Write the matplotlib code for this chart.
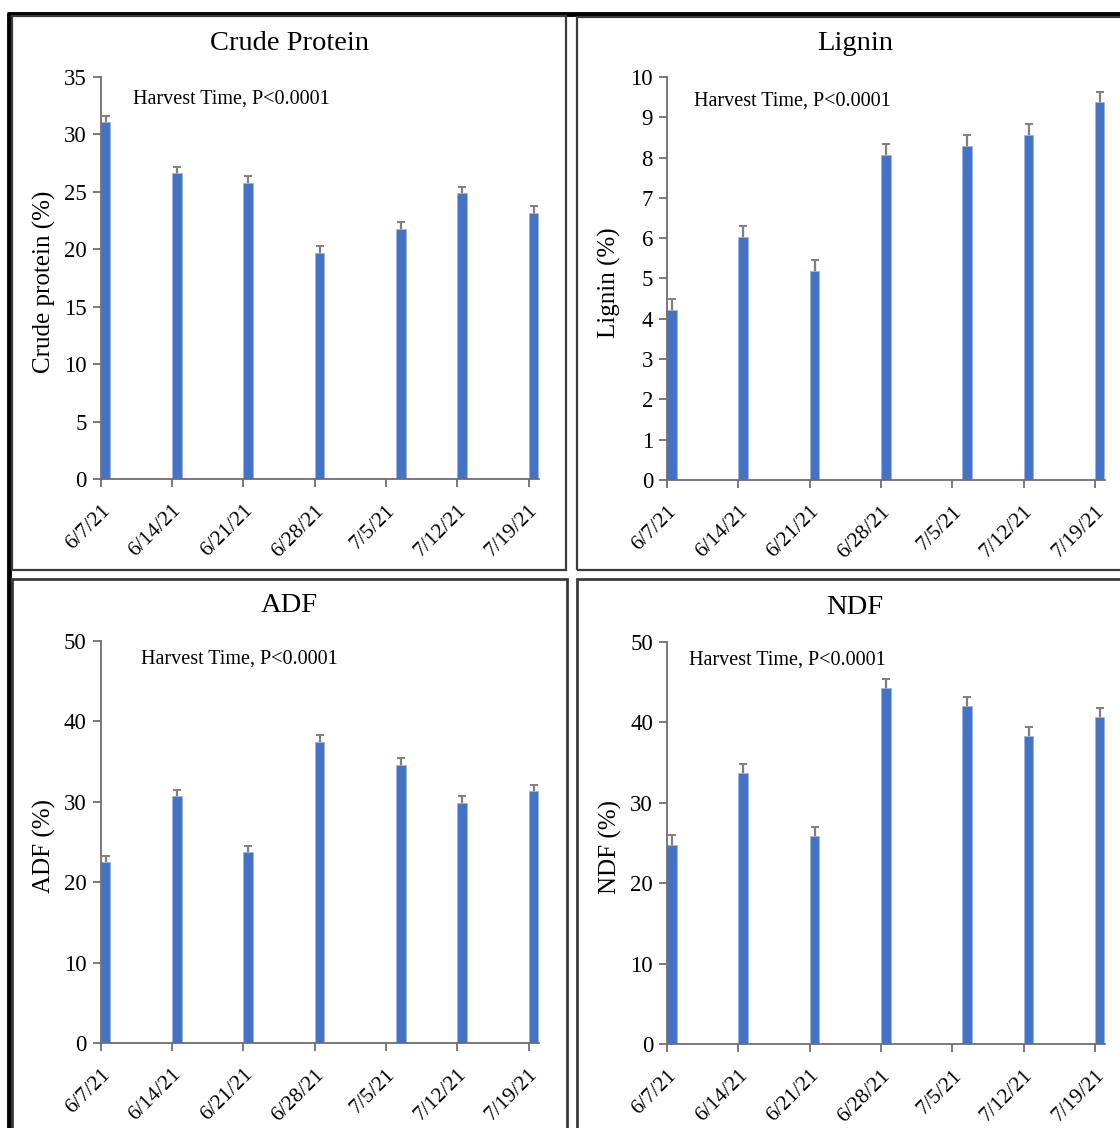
import numpy as np
import matplotlib
matplotlib.use("Agg")
import matplotlib.pyplot as plt
from matplotlib.lines import Line2D
from matplotlib.patches import Rectangle

plt.rcParams['font.family'] = ['Liberation Serif', 'DejaVu Serif']

# harvest dates (the "7/5" harvest sits on 7/6 on the date axis)
harvest_dates = np.array(['2021-06-07', '2021-06-14', '2021-06-21', '2021-06-28',
                          '2021-07-06', '2021-07-12', '2021-07-19'], dtype='datetime64[D]')
tick_dates = np.array(['2021-06-07', '2021-06-14', '2021-06-21', '2021-06-28',
                       '2021-07-05', '2021-07-12', '2021-07-19'], dtype='datetime64[D]')
tick_labels = ['6/7/21', '6/14/21', '6/21/21', '6/28/21', '7/5/21', '7/12/21', '7/19/21']

crude_protein = [31.1, 26.6, 25.8, 19.7, 21.8, 24.9, 23.2]
crude_protein_se = [0.5, 0.55, 0.55, 0.55, 0.55, 0.55, 0.55]
lignin = [4.23, 6.04, 5.18, 8.07, 8.30, 8.56, 9.37]
lignin_se = [0.27, 0.27, 0.27, 0.27, 0.27, 0.27, 0.27]
adf = [22.5, 30.7, 23.7, 37.5, 34.6, 29.9, 31.3]
adf_se = [0.8, 0.8, 0.8, 0.8, 0.8, 0.8, 0.8]
ndf = [24.8, 33.7, 25.9, 44.3, 42.0, 38.3, 40.7]
ndf_se = [1.15, 1.1, 1.05, 1.1, 1.1, 1.15, 1.1]

W, H = 1120, 1128
fig = plt.figure(figsize=(W / 100, H / 100), dpi=100)

BLUE = '#4472C4'
GREY = '#7f7f7f'
note = 'Harvest Time, P<0.0001'


def px_axes(left, right, top, bottom):
    return fig.add_axes([left / W, 1 - bottom / H, (right - left) / W, (bottom - top) / H])


def panel(ax, values, errs, ymax, ystep, ylabel, title, title_xy, note_xy, ylab_x):
    ax.errorbar(harvest_dates + np.timedelta64(12, 'h'), values, yerr=errs, fmt='none',
                ecolor=GREY, elinewidth=1.6, capsize=3, capthick=1.4, zorder=1)
    ax.bar(harvest_dates, values, width=0.95, align='edge', color=BLUE,
           edgecolor='#9db5e0', linewidth=0.6, zorder=2)
    ax.set_xlim(np.datetime64('2021-06-07'), np.datetime64('2021-07-20'))
    ax.set_ylim(0, ymax)
    ax.set_yticks(np.arange(0, ymax + 0.01, ystep))
    ax.set_xticks(tick_dates)
    ax.set_xticklabels(tick_labels, rotation=45, ha='right', va='top', rotation_mode='anchor')
    for s in ['top', 'right']:
        ax.spines[s].set_visible(False)
    for s in ['left', 'bottom']:
        ax.spines[s].set_color('#6e6e6e')
        ax.spines[s].set_linewidth(1.3)
    ax.tick_params(axis='both', direction='out', length=6, width=1.3, color='#6e6e6e')
    ax.tick_params(axis='y', labelsize=16.5, pad=4)
    ax.tick_params(axis='x', labelsize=15.5, pad=10)
    ax.set_ylabel(ylabel, fontsize=18)
    bb = ax.get_position()
    ax.yaxis.set_label_coords((ylab_x / W - bb.x0) / bb.width, 0.49)
    fig.text(title_xy[0] / W, 1 - title_xy[1] / H, title, fontsize=20.5, ha='center', va='center')
    fig.text(note_xy[0] / W, 1 - note_xy[1] / H, note, fontsize=14.5, ha='left', va='center')


ax1 = px_axes(100.5, 538.7, 77, 479)
panel(ax1, crude_protein, crude_protein_se, 35, 5, 'Crude protein (%)', 'Crude Protein',
      (289, 43), (133, 99), 56)
ax2 = px_axes(667, 1105, 77, 480)
panel(ax2, lignin, lignin_se, 10, 1, 'Lignin (%)', 'Lignin', (855, 44), (694, 101), 621)
ax3 = px_axes(100.5, 538.7, 641, 1043)
panel(ax3, adf, adf_se, 50, 10, 'ADF (%)', 'ADF', (289, 606), (141, 659), 56)
ax4 = px_axes(667, 1105, 642, 1044)
panel(ax4, ndf, ndf_se, 50, 10, 'NDF (%)', 'NDF', (855, 607), (689, 660), 622)


def box(x0, y0, x1, y1, lw=1.6, color='#3a3a3a'):
    fig.add_artist(Rectangle((x0 / W, 1 - y1 / H), (x1 - x0) / W, (y1 - y0) / H,
                             transform=fig.transFigure, fill=False, edgecolor=color,
                             linewidth=lw, zorder=5))


box(12, 16, 566, 570)
box(577, 17, 1130, 570)
box(12, 579, 567, 1140, lw=2.0)
box(577, 579, 1130, 1140, lw=2.0)

# heavy outer frame on top and left
fig.add_artist(Line2D([7 / W, 1], [1 - 14 / H, 1 - 14 / H], transform=fig.transFigure,
                      color='black', linewidth=3.5, solid_capstyle='butt'))
fig.add_artist(Line2D([9 / W, 9 / W], [1 - 12.5 / H, 0], transform=fig.transFigure,
                      color='black', linewidth=3.5, solid_capstyle='butt'))

fig.savefig('out.png', dpi=100)
